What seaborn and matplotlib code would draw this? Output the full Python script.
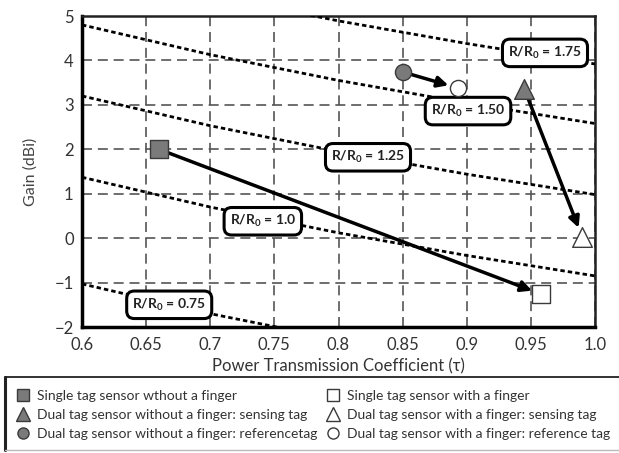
import matplotlib
matplotlib.use("Agg")
import matplotlib.pyplot as plt
from matplotlib.lines import Line2D
import seaborn as sns
import pandas as pd

sns.set_style("white")
plt.rcParams['font.family'] = ['Lato', 'DejaVu Sans']
plt.rcParams['mathtext.fontset'] = 'custom'
plt.rcParams['mathtext.rm'] = 'Lato'
plt.rcParams['mathtext.bf'] = 'Lato:bold'

# ---- data ----
tau_grid = [0.6, 0.7, 0.8, 0.9, 1.0]
ratio_labels = ["0.75", "1.0", "1.25", "1.50", "1.75"]
gain_r075 = [-1.03, -1.70, -2.28, -2.79, -3.25]
gain_r100 = [1.37, 0.70, 0.12, -0.39, -0.85]
gain_r125 = [3.20, 2.53, 1.95, 1.44, 0.98]
gain_r150 = [4.80, 4.13, 3.55, 3.04, 2.58]
gain_r175 = [6.14, 5.47, 4.89, 4.38, 3.92]

label_tau = [0.668, 0.741, 0.823, 0.901, 0.961]
label_gain = [-1.50, 0.38, 1.82, 2.86, 4.17]

series_names = [
    "Single tag sensor wthout a finger",
    "Dual tag sensor without a finger: sensing tag",
    "Dual tag sensor without a finger: referencetag",
    "Single tag sensor with a finger",
    "Dual tag sensor with a finger: sensing tag",
    "Dual tag sensor with a finger: reference tag",
]
series_tau = [0.660, 0.945, 0.850, 0.958, 0.990, 0.893]
series_gain = [2.00, 3.35, 3.74, -1.26, 0.03, 3.38]
series_marker = ["s", "^", "o", "s", "^", "o"]
series_fill = ["#7a7a7a", "#7a7a7a", "#7a7a7a", "white", "white", "white"]
series_size = [150, 200, 135, 150, 200, 135]
arrow_pairs = [(0, 3), (1, 4), (2, 5)]

x_ticks = [0.6, 0.65, 0.7, 0.75, 0.8, 0.85, 0.9, 0.95, 1.0]
x_tick_labels = ["0.6", "0.65", "0.7", "0.75", "0.8", "0.85", "0.9", "0.95", "1.0"]
y_ticks = [-2, -1, 0, 1, 2, 3, 4, 5]

# ---- figure ----
W, H = 619, 453
fig = plt.figure(figsize=(6.19, 4.53), dpi=100)
ax = fig.add_axes([82 / W, 1 - 327 / H, (595 - 82) / W, (327 - 16) / H])

curves = pd.DataFrame({
    "tau": tau_grid * 5,
    "gain": gain_r075 + gain_r100 + gain_r125 + gain_r150 + gain_r175,
    "ratio": sum([[r] * len(tau_grid) for r in ratio_labels], []),
})
sns.lineplot(data=curves, x="tau", y="gain", units="ratio", estimator=None,
             color="black", linewidth=2.0, linestyle=(0, (1.6, 1.1)), ax=ax,
             zorder=3)

for tx, gy, r in zip(label_tau, label_gain, ratio_labels):
    ax.text(tx, gy, "R/R$_{\\mathbf{0}}$ = " + r, ha="center", va="center",
            fontsize=10, fontweight="bold", color="#222222", zorder=6,
            bbox=dict(boxstyle="round,pad=0.4,rounding_size=0.55",
                      fc="white", ec="black", lw=2.2))

for a, b in arrow_pairs:
    ax.annotate("", xy=(series_tau[b], series_gain[b]),
                xytext=(series_tau[a], series_gain[a]),
                arrowprops=dict(arrowstyle="-|>", color="black", lw=2.5,
                                mutation_scale=16, shrinkA=4, shrinkB=7),
                zorder=5)

for i in range(len(series_names)):
    sns.scatterplot(x=[series_tau[i]], y=[series_gain[i]], marker=series_marker[i],
                    s=series_size[i], color=series_fill[i], edgecolor="#3a3a3a",
                    linewidth=1.0, ax=ax, zorder=7, legend=False)

ax.set_xlim(0.6, 1.0)
ax.set_ylim(-2, 5)
ax.set_xticks(x_ticks)
ax.set_xticklabels(x_tick_labels)
ax.set_yticks(y_ticks)
ax.tick_params(axis="both", length=0, labelsize=12, colors="#333333")
ax.tick_params(axis="x", pad=7)
ax.tick_params(axis="y", pad=6)
ax.grid(True, color="#555555", linestyle=(0, (6, 3.5)), linewidth=1.2)
ax.set_axisbelow(True)
for s in ["left", "bottom"]:
    ax.spines[s].set_linewidth(2.5)
    ax.spines[s].set_color("black")
for s in ["top", "right"]:
    ax.spines[s].set_linewidth(1.8)
    ax.spines[s].set_color("#222222")
    ax.spines[s].set_visible(True)

ax.set_xlabel("Power Transmission Coefficient (\u03c4)", fontsize=12,
              color="#333333", labelpad=4)
ax.set_ylabel("Gain (dBi)", fontsize=11.5, color="#444444", labelpad=12)

# legend frame (top, left, bottom edges; right edge off the figure)
fig.add_artist(Line2D([5 / W, 1.0], [1 - 377 / H, 1 - 377 / H],
                      transform=fig.transFigure, color="#222222", lw=1.3))
fig.add_artist(Line2D([5 / W, 5 / W], [1 - 377 / H, 1 - 450 / H],
                      transform=fig.transFigure, color="#222222", lw=2.2))
fig.add_artist(Line2D([5 / W, 1.0], [1 - 450 / H, 1 - 450 / H],
                      transform=fig.transFigure, color="#bbbbbb", lw=1.0))

handles = []
for i in range(len(series_names)):
    handles.append(Line2D([], [], linestyle="none", marker=series_marker[i],
                          markersize=8 if series_marker[i] != "^" else 9.5,
                          markerfacecolor=series_fill[i], markeredgecolor="#3a3a3a",
                          markeredgewidth=1.0, label=series_names[i]))

legend_kw = dict(loc="center left", frameon=False, fontsize=10,
                 handletextpad=0.45, labelspacing=0.5, borderpad=0.0,
                 handlelength=1.1, borderaxespad=0)
leg1 = fig.legend(handles=handles[:3], bbox_to_anchor=(15 / W, 1 - 415 / H), **legend_kw)
leg2 = fig.legend(handles=handles[3:], bbox_to_anchor=(325 / W, 1 - 415 / H), **legend_kw)
for lg in (leg1, leg2):
    for t in lg.get_texts():
        t.set_color("#333333")

fig.savefig("out.png", dpi=100)
